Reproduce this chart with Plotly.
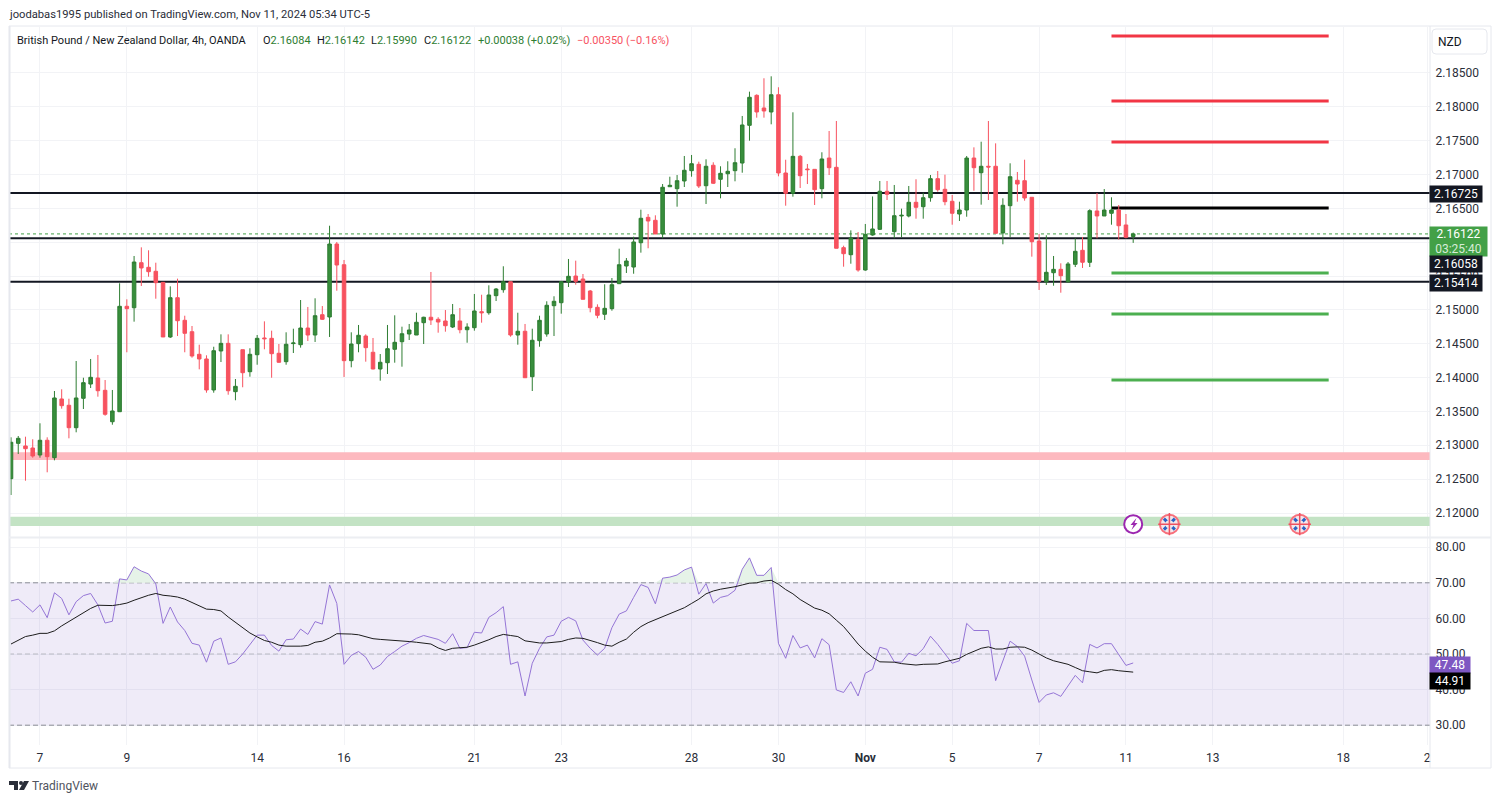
import plotly.graph_objects as go

WIDTH = 1500
HEIGHT = 802

# bar index on the time scale, one bar per 4 hours
opens = [
    2.12507, 2.13029, 2.12990, 2.12960, 2.12857, 2.13074, 2.12817, 2.13684, 2.13591, 2.13260,
    2.13694, 2.13905, 2.13994, 2.13812, 2.13348, 2.13496, 2.15053, 2.15032, 2.15697, 2.15629,
    2.15570, 2.15407, 2.14600, 2.15180, 2.14846, 2.14678, 2.14344, 2.14275, 2.13817, 2.14393,
    2.14506, 2.13792, 2.14412, 2.14087, 2.14338, 2.14585, 2.14580, 2.14359, 2.14235, 2.14502,
    2.14486, 2.14732, 2.14629, 2.14929, 2.14895, 2.15973, 2.15667, 2.14250, 2.14501, 2.14614,
    2.14374, 2.14127, 2.14220, 2.14418, 2.14530, 2.14644, 2.14629, 2.14811, 2.14891, 2.14861,
    2.14836, 2.14747, 2.14836, 2.14707, 2.14737, 2.14973, 2.14958, 2.15210, 2.15298, 2.15416,
    2.14629, 2.14684, 2.14013, 2.14545, 2.14644, 2.15062, 2.15106, 2.15412, 2.15500, 2.15456,
    2.15279, 2.15038, 2.14935, 2.15018, 2.15387, 2.15648, 2.15633, 2.15992, 2.16367, 2.16323,
    2.16121, 2.16819, 2.16790, 2.16904, 2.17056, 2.17150, 2.16834, 2.17136, 2.16929, 2.17011,
    2.17056, 2.17169, 2.17726, 2.18169, 2.17982, 2.17923, 2.18178, 2.17022, 2.16722, 2.17268,
    2.17081, 2.17076, 2.16790, 2.17243, 2.17106, 2.15919, 2.15815, 2.16043, 2.15589, 2.16106,
    2.16190, 2.16752, 2.16155, 2.16387, 2.16387, 2.16589, 2.16524, 2.16657, 2.16938, 2.16781,
    2.16604, 2.16416, 2.16475, 2.17243, 2.17026, 2.17121, 2.17121, 2.16136, 2.16539, 2.16914,
    2.16908, 2.16663, 2.16017, 2.15416, 2.15549, 2.15599, 2.15412, 2.15673, 2.15880, 2.15703,
    2.16461, 2.16387, 2.16427, 2.16475, 2.16254, 2.16084,
]
highs = [
    2.13118, 2.13137, 2.13127, 2.13089, 2.13325, 2.13118, 2.13802, 2.13827, 2.13688, 2.14245,
    2.13998, 2.14275, 2.14334, 2.13964, 2.13817, 2.15393, 2.15156, 2.15796, 2.15924, 2.15880,
    2.15697, 2.15412, 2.15348, 2.15461, 2.14914, 2.14762, 2.14486, 2.14329, 2.14456, 2.14639,
    2.14639, 2.13979, 2.14412, 2.14433, 2.14629, 2.14831, 2.14693, 2.14496, 2.14669, 2.14722,
    2.15146, 2.15043, 2.15171, 2.15057, 2.16243, 2.16003, 2.15737, 2.14669, 2.14777, 2.14639,
    2.14585, 2.14348, 2.14777, 2.14920, 2.14752, 2.14792, 2.14958, 2.14899, 2.15560, 2.14891,
    2.14998, 2.15087, 2.15028, 2.14802, 2.15235, 2.15224, 2.15363, 2.15323, 2.15644, 2.15416,
    2.14958, 2.14792, 2.14722, 2.14914, 2.15127, 2.15201, 2.15416, 2.15752, 2.15727, 2.15530,
    2.15294, 2.15082, 2.15378, 2.15471, 2.15904, 2.15766, 2.16081, 2.16480, 2.16416, 2.16397,
    2.16859, 2.16967, 2.16992, 2.17273, 2.17288, 2.17189, 2.17224, 2.17180, 2.17121, 2.17195,
    2.17387, 2.17864, 2.18223, 2.18184, 2.18421, 2.18450, 2.18288, 2.17218, 2.17918, 2.17288,
    2.17155, 2.17076, 2.17328, 2.17642, 2.17790, 2.15948, 2.16175, 2.16150, 2.16269, 2.16675,
    2.16904, 2.16904, 2.16845, 2.16495, 2.16830, 2.16929, 2.16731, 2.16992, 2.17051, 2.16997,
    2.16697, 2.16598, 2.17273, 2.17401, 2.17484, 2.17790, 2.17460, 2.16648, 2.17165, 2.17037,
    2.17218, 2.16663, 2.16121, 2.16102, 2.15796, 2.15688, 2.15707, 2.16057, 2.16077, 2.16486,
    2.16726, 2.16785, 2.16663, 2.16549, 2.16416, 2.16142,
]
lows = [
    2.12266, 2.12871, 2.12477, 2.12817, 2.12817, 2.12601, 2.12778, 2.13541, 2.13103, 2.13192,
    2.13536, 2.13846, 2.13718, 2.13437, 2.13304, 2.13496, 2.14374, 2.14826, 2.15353, 2.15490,
    2.15165, 2.14600, 2.14585, 2.14614, 2.14374, 2.14294, 2.14122, 2.13777, 2.13777, 2.14230,
    2.13747, 2.13665, 2.13857, 2.14013, 2.14190, 2.14418, 2.13998, 2.14220, 2.14190, 2.14363,
    2.14442, 2.14540, 2.14526, 2.14851, 2.14600, 2.15283, 2.14009, 2.14152, 2.14374, 2.14235,
    2.14122, 2.13954, 2.14053, 2.14220, 2.14161, 2.14555, 2.14629, 2.14496, 2.14777, 2.14663,
    2.14678, 2.14732, 2.14654, 2.14515, 2.14693, 2.14811, 2.14929, 2.15131, 2.15254, 2.14604,
    2.14486, 2.13998, 2.13802, 2.14456, 2.14604, 2.14614, 2.14944, 2.15338, 2.15372, 2.15156,
    2.14964, 2.14876, 2.14851, 2.14988, 2.15382, 2.15545, 2.15534, 2.15845, 2.15910, 2.16121,
    2.16057, 2.16819, 2.16524, 2.16815, 2.16967, 2.16800, 2.16564, 2.16859, 2.16648, 2.16815,
    2.16899, 2.17026, 2.17499, 2.17839, 2.17839, 2.17741, 2.16973, 2.16539, 2.16672, 2.16800,
    2.16859, 2.16549, 2.16648, 2.16992, 2.15910, 2.15638, 2.15682, 2.15564, 2.15579, 2.16096,
    2.16180, 2.16623, 2.16057, 2.16072, 2.16367, 2.16347, 2.16347, 2.16598, 2.16746, 2.16545,
    2.16258, 2.16313, 2.16376, 2.16760, 2.16554, 2.16623, 2.16131, 2.15969, 2.16077, 2.16598,
    2.16613, 2.15786, 2.15294, 2.15368, 2.15357, 2.15254, 2.15412, 2.15633, 2.15619, 2.15633,
    2.16057, 2.16387, 2.16258, 2.16037, 2.16057, 2.15990,
]
closes = [
    2.13045, 2.13103, 2.12950, 2.12842, 2.13074, 2.12832, 2.13699, 2.13585, 2.13260, 2.13699,
    2.13925, 2.14004, 2.13806, 2.13458, 2.13507, 2.15053, 2.15018, 2.15707, 2.15619, 2.15564,
    2.15402, 2.14600, 2.15180, 2.14840, 2.14654, 2.14319, 2.14275, 2.13817, 2.14397, 2.14506,
    2.13806, 2.13871, 2.14072, 2.14344, 2.14580, 2.14574, 2.14353, 2.14226, 2.14492, 2.14511,
    2.14732, 2.14629, 2.14914, 2.14861, 2.15973, 2.15663, 2.14250, 2.14496, 2.14625, 2.14442,
    2.14127, 2.14226, 2.14427, 2.14521, 2.14648, 2.14703, 2.14817, 2.14891, 2.14851, 2.14821,
    2.14766, 2.14929, 2.14707, 2.14747, 2.14984, 2.14958, 2.15220, 2.15308, 2.15416, 2.14629,
    2.14684, 2.13998, 2.14551, 2.14846, 2.15068, 2.15127, 2.15416, 2.15496, 2.15422, 2.15156,
    2.15032, 2.14920, 2.15023, 2.15372, 2.15667, 2.15722, 2.16003, 2.16353, 2.16313, 2.16121,
    2.16811, 2.16840, 2.16908, 2.17062, 2.17159, 2.16830, 2.17121, 2.16870, 2.17017, 2.17047,
    2.17174, 2.17731, 2.18140, 2.17923, 2.17938, 2.18178, 2.17022, 2.16722, 2.17268, 2.16982,
    2.17071, 2.16775, 2.17229, 2.17100, 2.15910, 2.15830, 2.16062, 2.15589, 2.16116, 2.16195,
    2.16752, 2.16707, 2.16391, 2.16397, 2.16589, 2.16515, 2.16657, 2.16938, 2.16775, 2.16598,
    2.16427, 2.16475, 2.17243, 2.17100, 2.17121, 2.17110, 2.16131, 2.16545, 2.16967, 2.16859,
    2.16653, 2.16007, 2.15422, 2.15555, 2.15599, 2.15505, 2.15678, 2.15865, 2.15703, 2.16465,
    2.16387, 2.16475, 2.16475, 2.16243, 2.16072, 2.16122,
]
rsi = [
    64.9, 65.4, 63.6, 61.8, 63.8, 60.2, 67.2, 65.6, 61.0, 64.7,
    66.4, 67.0, 63.8, 58.7, 59.2, 71.1, 70.8, 74.5, 73.3, 72.5,
    69.7, 58.6, 63.2, 59.0, 56.6, 53.0, 52.5, 47.7, 53.6, 54.5,
    47.1, 47.8, 50.0, 52.8, 55.3, 55.3, 52.4, 50.8, 54.0, 54.2,
    57.0, 55.5, 59.1, 58.4, 69.4, 64.2, 47.1, 49.6, 50.7, 49.1,
    45.7, 46.9, 49.3, 50.7, 52.2, 53.2, 54.4, 55.2, 54.7, 54.1,
    53.0, 55.7, 51.6, 51.8, 56.1, 55.9, 60.3, 61.6, 63.3, 47.1,
    47.8, 38.2, 47.4, 51.6, 54.8, 55.3, 59.2, 60.3, 59.3, 53.9,
    51.6, 49.7, 51.6, 57.4, 61.2, 62.1, 65.9, 69.5, 68.7, 64.1,
    71.3, 71.6, 72.2, 73.6, 74.4, 66.8, 69.8, 64.3, 65.9, 66.4,
    67.9, 73.8, 77.0, 72.1, 72.1, 74.3, 53.0, 48.8, 55.2, 51.7,
    52.5, 48.9, 54.3, 52.6, 39.9, 39.2, 42.2, 38.2, 44.6, 45.7,
    51.9, 51.3, 47.8, 47.7, 50.2, 49.5, 51.5, 55.0, 52.7, 50.2,
    47.4, 48.1, 58.6, 56.6, 56.6, 56.6, 42.5, 48.0, 53.6, 52.1,
    49.4, 42.7, 36.4, 38.5, 39.1, 38.1, 41.0, 44.0, 41.9, 52.7,
    51.7, 52.9, 52.9, 49.7, 46.8, 47.48,
]
rsi_ma = [
    52.8, 53.8, 54.9, 55.3, 55.8, 55.8, 56.5, 57.9, 59.1, 60.4,
    61.6, 62.8, 63.7, 63.6, 63.6, 63.9, 64.3, 65.1, 65.9, 66.5,
    67.0, 66.5, 66.3, 66.0, 65.4, 64.4, 63.5, 62.6, 62.5, 62.1,
    60.4, 58.9, 57.3, 55.9, 54.8, 53.8, 53.3, 52.5, 52.2, 52.1,
    52.2, 52.4, 53.3, 53.6, 54.5, 55.7, 55.7, 55.6, 55.4, 54.9,
    54.3, 54.1, 54.0, 53.8, 53.7, 53.5, 53.3, 53.1, 52.8, 51.7,
    51.0, 51.6, 51.7, 51.9, 52.5, 53.2, 54.0, 54.9, 55.5, 55.2,
    54.9, 53.7, 53.3, 53.1, 53.1, 53.3, 53.5, 54.1, 54.5, 54.4,
    53.9, 53.2, 52.5, 52.2, 53.3, 54.2, 56.1, 57.7, 58.8, 59.6,
    60.6, 61.4, 62.2, 63.0, 64.2, 65.4, 66.9, 67.7, 68.2, 68.5,
    68.9, 69.4, 69.9, 70.0, 70.5, 70.7, 69.6, 68.1, 66.9, 65.3,
    64.2, 62.9, 62.3, 61.3, 59.5, 57.7, 55.3, 52.8, 50.8, 49.1,
    47.8, 47.8, 47.7, 47.3, 47.1, 46.9, 47.1, 47.1, 47.2, 47.8,
    48.4, 48.8, 49.9, 50.8, 51.6, 52.0, 51.4, 51.4, 51.9, 52.0,
    51.9, 51.1, 49.9, 48.9, 48.1, 47.6, 47.1, 46.2, 45.3, 45.0,
    44.7, 45.4, 45.6, 45.3, 45.0, 44.91,
]
bars = list(range(len(closes)))

time_ticks = [4, 16, 34, 46, 64, 76, 94, 106, 118, 130, 142, 154, 166, 184, 195.6]
time_labels = ["7", "9", "14", "16", "21", "23", "28", "30", "<b>Nov</b>", "5", "7", "11", "13", "18", "2"]
price_ticks = [2.12, 2.125, 2.13, 2.135, 2.14, 2.145, 2.15, 2.155, 2.16, 2.165, 2.17, 2.175, 2.18, 2.185]
# 2.16000 sits fully behind the last-price tag in the reference, only its grid line shows
price_labels = ["2.12000", "2.12500", "2.13000", "2.13500", "2.14000", "2.14500", "2.15000",
                "2.15500", "", "2.16500", "2.17000", "2.17500", "2.18000", "2.18500"]
rsi_ticks = [30, 40, 50, 60, 70, 80]
rsi_outer_bands = [70, 30]
rsi_middle_band = [50]

# drawings on the price pane
support_lines = [2.16725, 2.16058, 2.15414]
last_close = 2.16122
target_start, target_end = 152, 182
red_targets = [2.19045, 2.18085, 2.17480]
black_targets = [2.16505]
green_targets = [2.15545, 2.14939, 2.13965]
pink_zone = (2.12783, 2.12897)
green_zone = (2.11808, 2.11945)
lightning_bars = [155]
flag_bars = [160, 178]
event_price = 2.11835

GREEN = "#2e7d32"
RED = "#f7525f"
INK = "#131722"
AXIS_TEXT = "#2a2e39"
FRAME = "#e6e8ee"
GRID = "#f2f3f6"
PURPLE = "#7e57c2"
FONT = "Roboto"

# pane geometry in page pixels
PANE_LEFT, PANE_RIGHT = 9, 1430
PRICE_TOP, PRICE_BOTTOM = 27, 537
RSI_TOP, RSI_BOTTOM = 538, 745


def fx(px):
    return px / WIDTH


def fy(py):
    return 1 - py / HEIGHT


def frame_line(x0, y0, x1, y1, width=1, color=FRAME):
    return dict(
        type="line", xref="paper", yref="paper", x0=fx(x0), y0=fy(y0), x1=fx(x1), y1=fy(y1),
        line=dict(color=color, width=width), layer="above",
    )


# layer "between" keeps drawings over the grid and under the candles
def price_line(x0, x1, level, color, width, dash="solid"):
    return dict(
        type="line", xref="x", yref="y", x0=x0, x1=x1, y0=level, y1=level,
        line=dict(color=color, width=width, dash=dash), layer="between",
    )


def rsi_line(level, color):
    return dict(
        type="line", xref="x", yref="y2", x0=X_RANGE[0], x1=X_RANGE[1], y0=level, y1=level,
        line=dict(color=color, width=1, dash="5px,3px"), layer="between",
    )


def zone(bottom, top, color):
    return dict(
        type="rect", xref="x", yref="y", x0=X_RANGE[0], x1=X_RANGE[1], y0=bottom, y1=top,
        fillcolor=color, line=dict(width=0), layer="between",
    )


def text_at(px, py, text, size=12, color=INK, xanchor="left"):
    return dict(
        xref="paper", yref="paper", x=fx(px), y=fy(py), text=text, showarrow=False,
        xanchor=xanchor, yanchor="middle", font=dict(family=FONT, size=size, color=color),
    )


def axis_tag(top, height, text, color, width=52):
    return dict(
        xref="paper", yref="paper", x=fx(PANE_RIGHT - 1), y=fy(top), xanchor="left", yanchor="top",
        width=width, height=height, text=text, showarrow=False, align="center", valign="middle",
        bgcolor=color, borderpad=0, font=dict(family=FONT, size=12, color="#ffffff"),
    )


def paper_path(points):
    return "M " + " L ".join(f"{fx(px)} {fy(py)}" for px, py in points) + " Z"


X_RANGE = [(PANE_LEFT - 11) / 7.24, (PANE_RIGHT - 11) / 7.24]
PRICE_RANGE = [2.19577 - PRICE_BOTTOM * 0.0001477, 2.19577 - PRICE_TOP * 0.0001477]
RSI_RANGE = [50 - (RSI_BOTTOM - 654) / 3.56, 50 + (654 - RSI_TOP) / 3.56]

fig = go.Figure()

fig.add_trace(go.Candlestick(
    x=bars, open=opens, high=highs, low=lows, close=closes,
    increasing=dict(line=dict(color=GREEN, width=1), fillcolor="#388e3c"),
    decreasing=dict(line=dict(color=RED, width=1), fillcolor=RED),
    whiskerwidth=0, xaxis="x", yaxis="y", showlegend=False,
))

# overbought fill between the RSI line and the 70 level
fig.add_trace(go.Scatter(
    x=bars, y=[70] * len(bars), xaxis="x", yaxis="y2", mode="lines",
    line=dict(width=0), showlegend=False, hoverinfo="skip",
))
fig.add_trace(go.Scatter(
    x=bars, y=[max(value, 70) for value in rsi], xaxis="x", yaxis="y2", mode="lines",
    line=dict(width=0), fill="tonexty", fillcolor="#e6f3e8", showlegend=False, hoverinfo="skip",
))
fig.add_trace(go.Scatter(
    x=bars, y=rsi, xaxis="x", yaxis="y2", mode="lines",
    line=dict(color="#9575d6", width=1), showlegend=False,
))
fig.add_trace(go.Scatter(
    x=bars, y=rsi_ma, xaxis="x", yaxis="y2", mode="lines",
    line=dict(color="#1c1c1c", width=1), showlegend=False,
))

# event badges under the price bars
fig.add_trace(go.Scatter(
    x=lightning_bars, y=[event_price] * len(lightning_bars), xaxis="x", yaxis="y", mode="markers",
    marker=dict(size=18, color="#ffffff", line=dict(color="#9c27b0", width=2)), showlegend=False,
))
fig.add_trace(go.Scatter(
    x=flag_bars, y=[event_price] * len(flag_bars), xaxis="x", yaxis="y", mode="markers",
    marker=dict(size=19, color="#f3e7ea", line=dict(color="#f7707c", width=2)), showlegend=False,
))
fig.add_trace(go.Scatter(
    x=flag_bars, y=[event_price] * len(flag_bars), xaxis="x", yaxis="y", mode="markers",
    marker=dict(size=11, symbol="x-thin", line=dict(color="#2b62c4", width=3)), showlegend=False,
))
fig.add_trace(go.Scatter(
    x=flag_bars, y=[event_price] * len(flag_bars), xaxis="x", yaxis="y", mode="markers",
    marker=dict(size=8, color="#f3e7ea"), showlegend=False,
))
fig.add_trace(go.Scatter(
    x=flag_bars, y=[event_price] * len(flag_bars), xaxis="x", yaxis="y", mode="markers",
    marker=dict(size=16, symbol="cross-thin", line=dict(color="#ee5060", width=1.5)), showlegend=False,
))

shapes = [
    zone(pink_zone[0], pink_zone[1], "#fdb9bf"),
    zone(green_zone[0], green_zone[1], "#c3e3c4"),
    dict(type="rect", xref="x", yref="y2", x0=X_RANGE[0], x1=X_RANGE[1], y0=30, y1=70,
         fillcolor="rgba(126,87,194,0.12)", line=dict(width=0), layer="between"),
    price_line(X_RANGE[0], X_RANGE[1], last_close, "#43a047", 1, "dot"),
]
shapes += [price_line(X_RANGE[0], X_RANGE[1], level, INK, 2) for level in support_lines]
shapes += [price_line(target_start, target_end, level, "#f23645", 3) for level in red_targets]
shapes += [price_line(target_start, target_end, level, "#000000", 3) for level in black_targets]
shapes += [price_line(target_start, target_end, level, "#4caf50", 3) for level in green_targets]
shapes += [rsi_line(level, "#8a8d96") for level in rsi_outer_bands]
shapes += [rsi_line(level, "#b8b9c2") for level in rsi_middle_band]
# outer frame, price axis border and pane separator
shapes += [
    frame_line(9, 26, 1491, 26),
    frame_line(9, 768, 1491, 768),
    frame_line(9.5, 26, 9.5, 768, 2),
    frame_line(1491, 26, 1491, 768),
    frame_line(PANE_RIGHT, 26, PANE_RIGHT, 768),
    frame_line(9, 537.5, 1491, 537.5, 2, "#eceef2"),
    # lightning glyph on the first badge
    dict(type="path", xref="paper", yref="paper",
         path=paper_path([(1136.5, 518), (1130.5, 525), (1133.5, 525), (1131.5, 530), (1137.5, 523), (1134.5, 523)]),
         fillcolor="#9c27b0", line=dict(width=0), layer="above"),
    # TradingView mark
    dict(type="path", xref="paper", yref="paper",
         path=(paper_path([(9, 781), (18, 781), (18, 790), (14, 790), (14, 785), (9, 785)]) + " "
               + paper_path([(24, 781), (29, 781), (24, 790), (19, 790)])),
         fillcolor="#2a2e39", line=dict(width=0), layer="above"),
    dict(type="circle", xref="paper", yref="paper", x0=fx(19), x1=fx(23), y0=fy(785), y1=fy(781),
         fillcolor="#2a2e39", line=dict(width=0), layer="above"),
    # currency box with rounded corners
    dict(type="path", xref="paper", yref="paper",
         path=(f"M {fx(1436)} {fy(29)} L {fx(1483)} {fy(29)} Q {fx(1487)} {fy(29)} {fx(1487)} {fy(33)} "
               f"L {fx(1487)} {fy(50)} Q {fx(1487)} {fy(54)} {fx(1483)} {fy(54)} "
               f"L {fx(1436)} {fy(54)} Q {fx(1432)} {fy(54)} {fx(1432)} {fy(50)} "
               f"L {fx(1432)} {fy(33)} Q {fx(1432)} {fy(29)} {fx(1436)} {fy(29)} Z"),
         fillcolor="#ffffff", line=dict(color=FRAME, width=1), layer="above"),
]

legend_parts = [
    (15, "British Pound / New Zealand Dollar, 4h, OANDA"),
    (261, f"O<span style='color:{GREEN}'>2.16084</span>"),
    (315, f"H<span style='color:{GREEN}'>2.16142</span>"),
    (369, f"L<span style='color:{GREEN}'>2.15990</span>"),
    (422, f"C<span style='color:{GREEN}'>2.16122</span>"),
    (476, f"<span style='color:{GREEN}'>+0.00038 (+0.02%)</span>"),
    (575, f"<span style='color:{RED}'>−0.00350 (−0.16%)</span>"),
]
annotations = [text_at(px, 40, text, 11) for px, text in legend_parts]
annotations += [
    text_at(7, 14, "joodabas1995 published on TradingView.com, Nov 11, 2024 05:34 UTC-5", 11.2, "#2a2e39"),
    text_at(30, 786, "TradingView", 12, "#50535e"),
    text_at(1450, 42, "NZD", 12, INK, "center"),
    axis_tag(185, 16, "2.16725", INK),
    axis_tag(226, 29, "2.16122<br><span style='color:#d6ecd7'>03:25:40</span>", "#43a047", 57),
    axis_tag(255, 16, "2.16058", INK),
    axis_tag(274, 16, "2.15414", INK),
    axis_tag(656, 16, "47.48", PURPLE, 40),
    axis_tag(672, 16, "44.91", "#000000", 40),
]

fig.update_layout(
    width=WIDTH,
    height=HEIGHT,
    margin=dict(l=0, r=0, t=0, b=0),
    autosize=False,
    paper_bgcolor="#ffffff",
    plot_bgcolor="#ffffff",
    showlegend=False,
    boxgap=0.3,
    font=dict(family=FONT, size=12, color=INK),
    shapes=shapes,
    annotations=annotations,
    xaxis=dict(
        domain=[fx(PANE_LEFT), fx(PANE_RIGHT)], range=X_RANGE, anchor="y2",
        rangeslider=dict(visible=False), tickmode="array", tickvals=time_ticks, ticktext=time_labels,
        showgrid=True, gridcolor=GRID, gridwidth=1, zeroline=False, showline=False,
        ticks="outside", ticklen=2, tickcolor="rgba(0,0,0,0)",
        tickfont=dict(family=FONT, size=12, color=AXIS_TEXT),
    ),
    yaxis=dict(
        domain=[fy(PRICE_BOTTOM), fy(PRICE_TOP)], range=PRICE_RANGE, anchor="x", side="right",
        tickmode="array", tickvals=price_ticks, ticktext=price_labels,
        showgrid=True, gridcolor=GRID, gridwidth=1, zeroline=False, showline=False,
        ticks="outside", ticklen=2, tickcolor="rgba(0,0,0,0)",
        tickfont=dict(family=FONT, size=12, color=AXIS_TEXT),
    ),
    yaxis2=dict(
        domain=[fy(RSI_BOTTOM), fy(RSI_TOP)], range=RSI_RANGE, anchor="x", side="right",
        tickmode="array", tickvals=rsi_ticks, tickformat=".2f",
        showgrid=True, gridcolor=GRID, gridwidth=1, zeroline=False, showline=False,
        ticks="outside", ticklen=2, tickcolor="rgba(0,0,0,0)",
        tickfont=dict(family=FONT, size=12, color=AXIS_TEXT),
    ),
)

fig.write_html(
    "out.html",
    config=dict(displayModeBar=False),
    post_script="document.body.style.margin='0';",
)
